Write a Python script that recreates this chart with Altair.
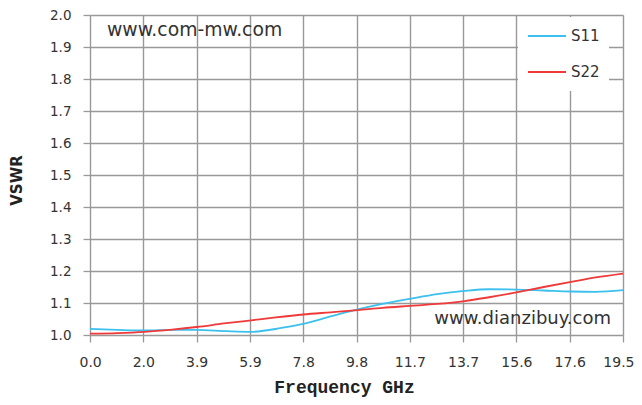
import altair as alt
import pandas as pd

freq_s11 = [0.0, 1.0, 2.0, 3.0, 3.9, 5.0, 5.9, 7.0, 7.8, 8.8, 9.8, 10.7, 11.7, 12.7, 13.7, 14.6, 15.6, 16.6, 17.6, 18.5, 19.5]
s11 = [1.019, 1.016, 1.014, 1.016, 1.016, 1.012, 1.010, 1.022, 1.035, 1.058, 1.080, 1.097, 1.113, 1.128, 1.138, 1.143, 1.142, 1.139, 1.136, 1.135, 1.140]

freq_s22 = [0.0, 1.0, 2.0, 3.0, 3.9, 4.9, 5.9, 6.8, 7.8, 8.8, 9.8, 10.7, 11.7, 12.7, 13.7, 14.6, 15.6, 16.6, 17.6, 18.5, 19.5]
s22 = [1.004, 1.006, 1.010, 1.017, 1.025, 1.036, 1.046, 1.055, 1.064, 1.071, 1.078, 1.085, 1.091, 1.097, 1.106, 1.118, 1.133, 1.150, 1.166, 1.180, 1.192]

x_ticks = [0.0, 1.95, 3.9, 5.85, 7.8, 9.75, 11.7, 13.65, 15.6, 17.55, 19.5]
x_labels = ["0.0", "2.0", "3.9", "5.9", "7.8", "9.8", "11.7", "13.7", "15.6", "17.6", "19.5"]
y_ticks = [1.0, 1.1, 1.2, 1.3, 1.4, 1.5, 1.6, 1.7, 1.8, 1.9, 2.0]

series = ["S11", "S22"]
colors = ["#3cc0ee", "#f03a3a"]

rows = []
for f, v in zip(freq_s11, s11):
    rows.append({"freq": f, "vswr": v, "series": "S11"})
for f, v in zip(freq_s22, s22):
    rows.append({"freq": f, "vswr": v, "series": "S22"})
df = pd.DataFrame(rows)

label_expr = "[" + ",".join("'%s'" % l for l in x_labels) + "][round(datum.value/1.95)]"

lines = alt.Chart(df).mark_line(strokeWidth=1.8, interpolate="monotone").encode(
    x=alt.X("freq:Q", scale=alt.Scale(domain=[0, 19.5], nice=False, zero=False),
            axis=alt.Axis(values=x_ticks, labelExpr=label_expr, title="Frequency GHz",
                          titleFont="Liberation Mono", titleFontSize=18, titleFontWeight="bold",
                          titleColor="#222222", titleX=254, titleY=57,
                          titleBaseline="alphabetic",
                          labelFont="DejaVu Sans", labelFontSize=14, labelColor="#333333",
                          labelPadding=13, tickSize=7, tickColor="#999999", tickWidth=1.3,
                          domain=False, grid=True, gridColor="#999999", gridWidth=1.4,
                          labelFlush=20, labelFlushOffset=11)),
    y=alt.Y("vswr:Q", scale=alt.Scale(domain=[1.0, 2.0], nice=False, zero=False),
            axis=alt.Axis(values=y_ticks, format=".1f", title="VSWR",
                          titleFont="DejaVu Sans", titleFontSize=15, titleFontWeight="bold",
                          titleColor="#222222", titleX=-74, titleY=165, titleAngle=270,
                          titleBaseline="middle",
                          labelFont="DejaVu Sans", labelFontSize=13.5, labelColor="#333333",
                          labelPadding=12, tickSize=7, tickColor="#999999", tickWidth=1.3,
                          domain=False, grid=True, gridColor="#999999", gridWidth=1.4)),
    color=alt.Color("series:N", scale=alt.Scale(domain=series, range=colors),
                    legend=alt.Legend(title=None, orient="none", legendX=428, legendY=2,
                                      fillColor="white", padding=9, symbolType="stroke",
                                      symbolSize=1444, symbolStrokeWidth=1.8,
                                      clipHeight=20, rowPadding=16,
                                      labelFont="DejaVu Sans", labelFontSize=15,
                                      labelColor="#333333", labelOffset=4)),
)

wm1 = alt.Chart(pd.DataFrame({"t": ["www.com-mw.com"]})).mark_text(
    align="left", baseline="middle", font="DejaVu Sans", fontSize=18.8, color="#333333"
).encode(x=alt.value(17), y=alt.value(15), text="t:N")

wm2 = alt.Chart(pd.DataFrame({"t": ["www.dianzibuy.com"]})).mark_text(
    align="right", baseline="middle", font="DejaVu Sans", fontSize=18, color="#333333"
).encode(x=alt.value(521), y=alt.value(304), text="t:N")

chart = alt.layer(lines, wm1, wm2).properties(
    width=533, height=320,
    autosize=alt.AutoSizeParams(type="none"),
    padding={"left": 82, "top": 7, "right": 11, "bottom": 62},
).configure_view(stroke=None).configure(background="white")

chart.save("out.html", embed_options={"renderer": "svg", "actions": False})
